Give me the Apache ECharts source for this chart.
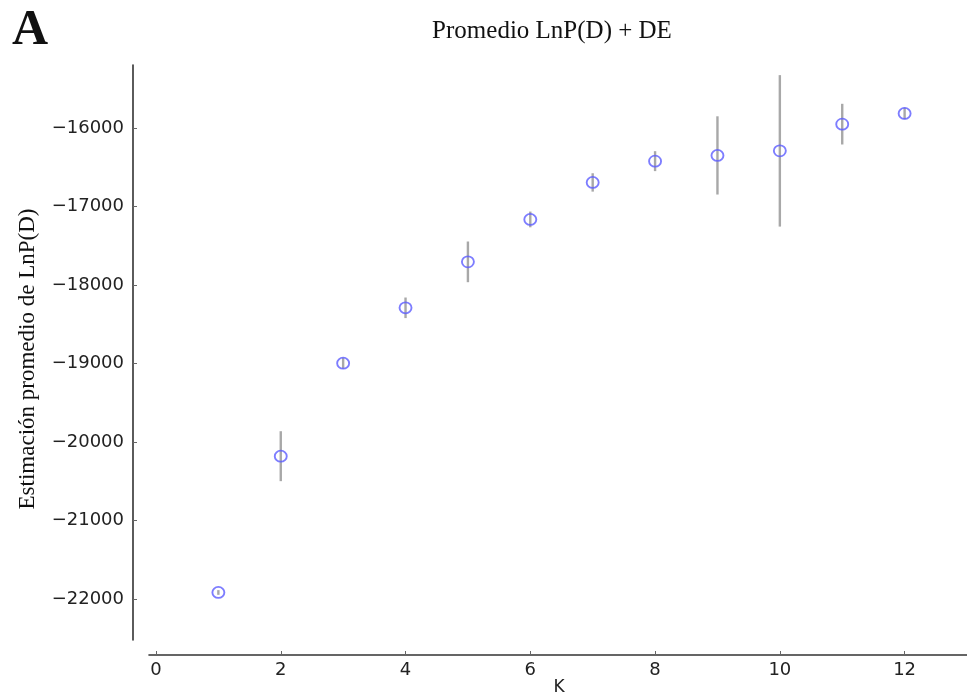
<!DOCTYPE html>
<html>
<head>
<meta charset="utf-8">
<script src="https://cdn.jsdelivr.net/npm/echarts@6/dist/echarts.min.js"></script>
<style>
html,body{margin:0;padding:0;background:#fff;}
#chart{width:967px;height:694px;}
</style>
</head>
<body>
<div id="chart"></div>
<script>
// Data
const kValues = [1, 2, 3, 4, 5, 6, 7, 8, 9, 10, 11, 12];
const meanLnP = [-21915, -20180, -18996, -18291, -17706, -17166, -16695, -16424, -16351, -16293, -15953, -15817];
const sdLnP = [30, 318, 70, 131, 259, 100, 117, 127, 498, 964, 259, 74];
const xTicks = [0, 2, 4, 6, 8, 10, 12];
const yTicks = [-22000, -21000, -20000, -19000, -18000, -17000, -16000];

const titleText = 'Promedio LnP(D) + DE';
const yTitle = 'Estimación promedio de LnP(D)';
const xTitle = 'K';
const panelLetter = 'A';

const points = kValues.map((k, i) => [k, meanLnP[i]]);
const bars = kValues.map((k, i) => [k, meanLnP[i] - sdLnP[i], meanLnP[i] + sdLnP[i]]);

const chart = echarts.init(document.getElementById('chart'), null, {renderer: 'canvas'});
const tickFont = {fontFamily: 'DejaVu Sans', fontSize: 18, color: '#222'};
const fmt = v => String(v).replace('-', '\u2212');

chart.setOption({
  backgroundColor: '#ffffff',
  animation: false,
  grid: {left: 149, right: 0, top: 65, bottom: 54, containLabel: false},
  xAxis: {
    type: 'value',
    min: -0.112,
    max: 13,
    offset: 15,
    splitLine: {show: false},
    axisLine: {show: true, onZero: false, lineStyle: {color: '#333', width: 1.6}},
    axisTick: {show: true, inside: true, length: 4, lineStyle: {color: '#666', width: 1}, customValues: xTicks},
    axisLabel: Object.assign({margin: 6, customValues: xTicks, formatter: fmt}, tickFont)
  },
  yAxis: {
    type: 'value',
    min: -22520,
    max: -15200,
    offset: 16,
    splitLine: {show: false},
    axisLine: {show: true, onZero: false, lineStyle: {color: '#333', width: 1.6}},
    axisTick: {show: true, inside: true, length: 4, lineStyle: {color: '#666', width: 1}, customValues: yTicks},
    axisLabel: Object.assign({margin: 9, customValues: yTicks, formatter: fmt}, tickFont)
  },
  graphic: [
    {type: 'text', left: 12, top: 6, style: {text: panelLetter, font: 'bold 50px "Liberation Serif"', fill: '#111'}},
    {type: 'text', x: 552, y: 31, style: {text: titleText, font: '25px "Liberation Serif"', fill: '#111', textAlign: 'center', textVerticalAlign: 'middle'}},
    {type: 'text', x: 28, y: 359, rotation: Math.PI / 2, style: {text: yTitle, font: '23px "Liberation Serif"', fill: '#111', textAlign: 'center', textVerticalAlign: 'middle'}},
    {type: 'text', x: 559, y: 679, style: {text: xTitle, font: '17px "DejaVu Sans"', fill: '#222', textAlign: 'center', textVerticalAlign: 'top'}}
  ],
  series: [
    {
      type: 'custom',
      data: bars,
      z: 1,
      renderItem: function (params, api) {
        const x = api.value(0);
        const lo = api.coord([x, api.value(1)]);
        const hi = api.coord([x, api.value(2)]);
        return {
          type: 'line',
          shape: {x1: lo[0], y1: lo[1], x2: hi[0], y2: hi[1]},
          style: {stroke: '#a8a8a8', lineWidth: 2.4}
        };
      }
    },
    {
      type: 'scatter',
      data: points,
      z: 2,
      symbol: 'circle',
      symbolSize: [12, 11],
      itemStyle: {color: 'rgba(0,0,0,0)', borderColor: '#5c5cff', borderWidth: 1.8}
    }
  ]
});
</script>
</body>
</html>
